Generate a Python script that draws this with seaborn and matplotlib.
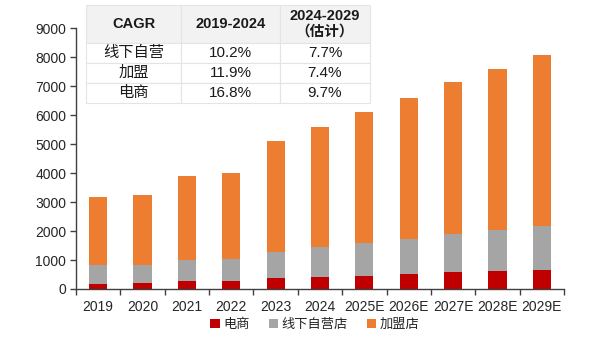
import matplotlib
matplotlib.use("Agg")
import matplotlib.pyplot as plt
from matplotlib.patches import Patch
import seaborn as sns
import pandas as pd
import numpy as np

sns.set_theme(style="white")
plt.rcParams["font.family"] = ["Liberation Sans", "Noto Sans CJK SC", "DejaVu Sans"]

# Market size by channel
years = ["2019", "2020", "2021", "2022", "2023", "2024",
         "2025E", "2026E", "2027E", "2028E", "2029E"]
ecommerce = [183, 193, 262, 276, 379, 414, 459, 517, 572, 607, 666]
self_operated = [631, 645, 738, 745, 907, 1034, 1138, 1217, 1335, 1427, 1506]
franchise = [2345, 2414, 2907, 2989, 3804, 4124, 4506, 4863, 5217, 5563, 5883]

series_names = ["电商", "线下自营店", "加盟店"]
colors = ["#C00000", "#A5A5A5", "#ED7D31"]

# CAGR table
cagr_header = ["CAGR", "2019-2024", "2024-2029\n（估计）"]
cagr_rows = [["线下自营", "10.2%", "7.7%"],
             ["加盟", "11.9%", "7.4%"],
             ["电商", "16.8%", "9.7%"]]

df = pd.DataFrame({"year": years, "电商": ecommerce,
                   "线下自营店": self_operated, "加盟店": franchise})
# cumulative stack heights, drawn from top layer down
df["cum_red"] = df["电商"]
df["cum_gray"] = df["电商"] + df["线下自营店"]
df["cum_total"] = df["cum_gray"] + df["加盟店"]

fig = plt.figure(figsize=(6.0, 3.38), dpi=100)
ax = fig.add_axes([76 / 600, 1 - 289 / 338, (564 - 76) / 600, (289 - 28) / 338])

for col, c in zip(["cum_total", "cum_gray", "cum_red"], [colors[2], colors[1], colors[0]]):
    sns.barplot(data=df, x="year", y=col, color=c, width=0.41,
                saturation=1, ax=ax, linewidth=0)

ax.set_ylim(0, 9000)
ax.set_xlim(-0.5, len(years) - 0.5)
ax.set_yticks(np.arange(0, 9001, 1000))
ax.set_xlabel("")
ax.set_ylabel("")
for s in ["top", "right"]:
    ax.spines[s].set_visible(False)
for s in ["left", "bottom"]:
    ax.spines[s].set_color("#404040")
    ax.spines[s].set_linewidth(1.0)
ax.tick_params(axis="y", which="major", direction="out", length=4, width=1,
               color="#404040", labelsize=10, labelcolor="#262626", pad=3, left=True)
ax.tick_params(axis="x", which="major", length=0, labelsize=10,
               labelcolor="#262626", pad=8)
ax.set_xticks(np.arange(-0.5, len(years)), minor=True)
ax.tick_params(axis="x", which="minor", direction="out", length=4, width=1,
               color="#404040", bottom=True)

# Legend
handles = [Patch(facecolor=c, edgecolor="none") for c in colors]
fig.legend(handles, series_names, loc="center", bbox_to_anchor=(0.525, 1 - 325 / 338),
           ncol=3, frameon=False, fontsize=9.5, handlelength=0.7, handleheight=0.7,
           handletextpad=0.3, columnspacing=1.4)

# CAGR table
tax = fig.add_axes([86 / 600, 1 - 103 / 338, (370 - 86) / 600, (103 - 5) / 338])
tax.axis("off")
tbl = tax.table(cellText=cagr_rows, colLabels=cagr_header, cellLoc="center",
                bbox=[0, 0, 1, 1])
tbl.auto_set_font_size(False)
col_w = [95, 99, 90]
for (r, c), cell in tbl.get_celld().items():
    cell.set_width(col_w[c])
    cell.set_height(38 if r == 0 else 20)
    cell.set_edgecolor("#E4E4E4")
    cell.set_linewidth(0.8)
    txt = cell.get_text()
    txt.set_color("#1a1a1a")
    if r == 0:
        cell.set_facecolor("#F2F2F2")
        txt.set_fontweight("bold")
        txt.set_fontsize(10.5)
        txt.set_linespacing(1.1)
    else:
        cell.set_facecolor("white")
        txt.set_fontsize(11)

fig.savefig("out.png", dpi=100)
